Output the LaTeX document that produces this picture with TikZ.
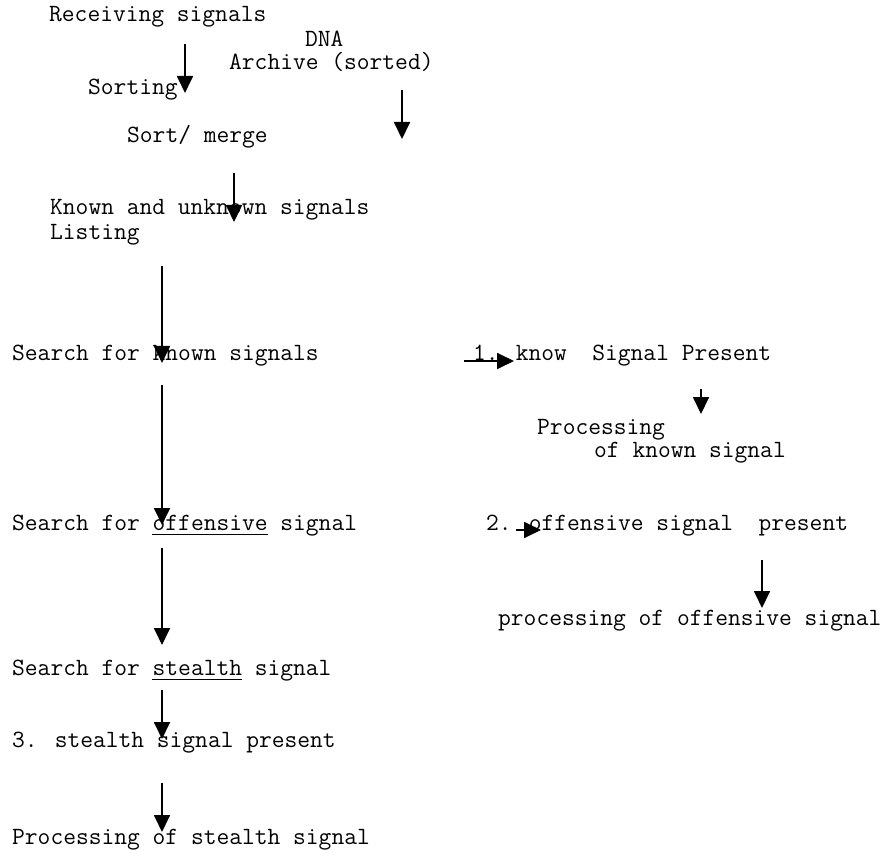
\documentclass[tikz,border=0pt]{standalone}
\usepackage{fontspec}
\usetikzlibrary{arrows.meta}
\begin{document}
\begin{tikzpicture}[x=1pt,y=-1pt,
  lbl/.style={anchor=base west,inner sep=0pt,font=\ttfamily\fontsize{24.8}{28}\selectfont},
  flow/.style={line width=1.8pt,-{Triangle[length=17pt,width=16pt]}},
  uline/.style={line width=1pt}]
\useasboundingbox (0,0) rectangle (881,850);
% texts (x = left edge, y = baseline)
\node[lbl] (recv) at (49,22) {Receiving signals};
\node[lbl] (dna) at (305,47) {DNA};
\node[lbl] (arch) at (229,70) {Archive (sorted)};
\node[lbl] (sorting) at (88,95) {Sorting};
\node[lbl] (merge) at (127,143) {Sort/ merge};
\node[lbl] (known) at (50,215) {Known and unknown signals};
\node[lbl] (listing) at (50,240) {Listing};
\node[lbl] (sk) at (12,360) {Search for known signals};
\node[lbl] (kp) at (473,360) {1. know\ \ Signal Present};
\node[lbl] (proc1) at (537,434) {Processing};
\node[lbl] (proc2) at (594,457) {of known signal};
\node[lbl] (so) at (12,530) {Search for offensive signal};
\node[lbl] (op) at (486,530) {2. offensive signal\ \ present};
\node[lbl] (po) at (498,625) {processing of offensive signal};
\node[lbl] (ss) at (12,675) {Search for stealth signal};
\node[lbl] (sp) at (12,747) {3. stealth signal present};
\node[lbl] (ps) at (12,844) {Processing of stealth signal};
% underlines
\coordinate (u1a) at (152,534); \coordinate (u1b) at (268,534);
\coordinate (u2a) at (152,679); \coordinate (u2b) at (242,679);
\draw[uline] (u1a) -- (u1b);
\draw[uline] (u2a) -- (u2b);
% arrow end points
\coordinate (a1s) at (185,44);  \coordinate (a1e) at (185,93);
\coordinate (a2s) at (402,90);  \coordinate (a2e) at (402,139);
\coordinate (a3s) at (234,173); \coordinate (a3e) at (234,222);
\coordinate (a4s) at (162,266); \coordinate (a4e) at (162,363);
\coordinate (a5s) at (464,361); \coordinate (a5e) at (514,361);
\coordinate (a6s) at (701,389); \coordinate (a6e) at (701,414);
\coordinate (a7s) at (162,385); \coordinate (a7e) at (162,525);
\coordinate (a8s) at (516,530); \coordinate (a8e) at (541,530);
\coordinate (a9s) at (762,560); \coordinate (a9e) at (762,608);
\coordinate (a10s) at (162,548); \coordinate (a10e) at (162,645);
\coordinate (a11s) at (162,690); \coordinate (a11e) at (162,739);
\coordinate (a12s) at (162,783); \coordinate (a12e) at (162,832);
\foreach \i in {1,...,12} \draw[flow] (a\i s) -- (a\i e);
\end{tikzpicture}
\end{document}
